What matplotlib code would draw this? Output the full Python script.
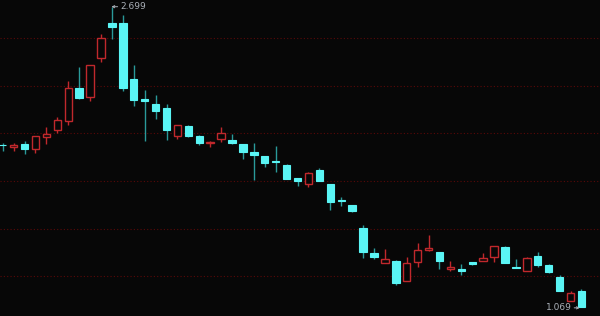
import numpy as np
import matplotlib.pyplot as plt

# OHLC
opens = [1.947, 1.935, 1.951, 1.928, 1.990, 2.031, 2.076, 2.257, 2.210, 2.420,
         2.610, 2.609, 2.305, 2.198, 2.172, 2.149, 1.997, 2.051, 1.997, 1.961,
         1.982, 1.976, 1.953, 1.910, 1.888, 1.858, 1.839, 1.768, 1.737, 1.812,
         1.737, 1.648, 1.620, 1.497, 1.361, 1.308, 1.317, 1.210, 1.314, 1.377,
         1.366, 1.272, 1.274, 1.312, 1.316, 1.341, 1.392, 1.284, 1.265, 1.346,
         1.294, 1.229, 1.102, 1.154]
closes = [1.946, 1.946, 1.924, 1.995, 2.006, 2.082, 2.257, 2.205, 2.384, 2.527,
          2.590, 2.259, 2.191, 2.185, 2.131, 2.031, 2.055, 1.995, 1.960, 1.963,
          2.014, 1.957, 1.908, 1.892, 1.852, 1.856, 1.765, 1.750, 1.796, 1.754,
          1.636, 1.646, 1.587, 1.368, 1.341, 1.328, 1.200, 1.308, 1.377, 1.386,
          1.319, 1.283, 1.261, 1.300, 1.335, 1.399, 1.305, 1.282, 1.334, 1.297,
          1.256, 1.153, 1.142, 1.069]
highs = [1.957, 1.957, 1.968, 1.995, 2.044, 2.098, 2.297, 2.370, 2.384, 2.551,
         2.699, 2.654, 2.384, 2.248, 2.219, 2.170, 2.055, 2.056, 2.002, 1.971,
         2.047, 2.006, 1.953, 1.957, 1.888, 1.942, 1.844, 1.768, 1.801, 1.824,
         1.737, 1.665, 1.623, 1.513, 1.388, 1.383, 1.323, 1.337, 1.415, 1.459,
         1.366, 1.316, 1.301, 1.312, 1.361, 1.399, 1.399, 1.327, 1.337, 1.366,
         1.300, 1.241, 1.154, 1.165]
lows = [1.917, 1.913, 1.899, 1.906, 1.953, 2.011, 2.055, 2.198, 2.188, 2.399,
        2.522, 2.243, 2.160, 1.971, 2.089, 1.975, 1.982, 1.990, 1.948, 1.935,
        1.966, 1.951, 1.872, 1.758, 1.830, 1.799, 1.765, 1.725, 1.719, 1.754,
        1.594, 1.618, 1.584, 1.335, 1.328, 1.308, 1.185, 1.210, 1.283, 1.373,
        1.276, 1.265, 1.243, 1.294, 1.316, 1.312, 1.305, 1.279, 1.265, 1.283,
        1.252, 1.153, 1.102, 1.069]

# horizontal grid levels
grid_levels = [2.529, 2.268, 2.013, 1.752, 1.491, 1.236]

bg = '#070707'
red = '#c0282c'
cyan = '#5af5f5'
teal = '#2a9a9a'
label_col = '#aab0b8'

o = np.array(opens)
c = np.array(closes)
h = np.array(highs)
l = np.array(lows)
x = np.arange(len(o))
up = c > o

fig = plt.figure(figsize=(6, 3.16), dpi=100, facecolor=bg)
ax = fig.add_axes([0, 0, 1, 1], facecolor=bg)

for g in grid_levels:
    ax.axhline(g, color='#5a0808', lw=0.8, ls=(0, (1, 2)), zorder=0)

# wicks
ax.vlines(x[up], l[up], h[up], color=red, lw=1, zorder=1)
ax.vlines(x[~up], l[~up], h[~up], color=teal, lw=1, zorder=1)

# bodies
w = 0.68
bot = np.minimum(o, c)
hgt = np.maximum(np.abs(c - o), 0.0005)
ax.bar(x[up], hgt[up], w, bottom=bot[up], facecolor=bg, edgecolor=red, lw=1, zorder=2)
ax.bar(x[~up], hgt[~up], w, bottom=bot[~up], facecolor=cyan, edgecolor=cyan, lw=0.8, zorder=2)

# max / min labels
arrow = dict(arrowstyle='->,head_length=0.25,head_width=0.12', color=label_col,
             lw=0.7, shrinkA=0, shrinkB=0)
imax = int(np.argmax(h))
imin = int(np.argmin(l))
ax.annotate(f'{h[imax]:.3f}', xy=(imax - 0.05, h[imax]), xytext=(6.5, 0),
            textcoords='offset points', ha='left', va='center',
            color=label_col, fontsize=6.5, arrowprops=arrow, zorder=3)
ax.annotate(f'{l[imin]:.3f}', xy=(imin - 0.15, l[imin] - 0.006), xytext=(-6, 0),
            textcoords='offset points', ha='right', va='center',
            color=label_col, fontsize=6.5, arrowprops=arrow, zorder=3)

ax.set_xlim(-0.25, 54.7)
ax.set_ylim(1.0186, 2.7354)
ax.set_xticks([])
ax.set_yticks([])
for s in ax.spines.values():
    s.set_visible(False)

fig.savefig('out.png', dpi=100, facecolor=bg)
